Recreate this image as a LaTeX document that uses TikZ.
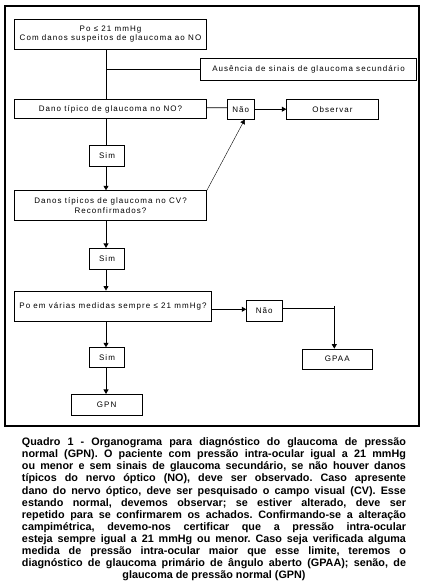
\documentclass[tikz,border=0pt]{standalone}
\usepackage{fontspec}
\setmainfont{Liberation Sans}
\newfontfamily\caixafont[LetterSpace=13]{Liberation Sans}
\usetikzlibrary{arrows.meta}

\newlength{\larg}
\setlength{\larg}{384bp}
\newcommand{\linha}[1]{\hbox to \larg{#1}}

\tikzset{
  caixa/.style={draw, line width=0.8pt, inner sep=0pt, align=center,
    font=\caixafont\fontsize{8bp}{9.3bp}\selectfont},
  liga/.style={line width=0.8pt},
  seta/.style={line width=0.8pt, -{Triangle[length=4.5bp,width=5bp]}},
  fina/.style={line width=0.4pt, -{Triangle[length=4.5bp,width=5bp]}},
}

\begin{document}
\begin{tikzpicture}[x=1bp,y=-1bp]
                \useasboundingbox (0,0) rectangle (428,585);
                \draw[line width=1.1pt] (5,6) rectangle (419,426);

                \coordinate (eixo) at (106,0);
                \coordinate (canto) at (334.3,308.3);

                \node[caixa, minimum width=192bp, minimum height=30bp] (po) at (110.5,34.2)
                    {Po ≤ 21 mmHg\\Com danos suspeitos de glaucoma ao NO};
                \node[caixa, minimum width=216bp, minimum height=22bp] (ausencia) at (308.5,69.3)
                    {Ausência de sinais de glaucoma secundário};
                \node[caixa, minimum width=192bp, minimum height=19.5bp] (dano) at (110.5,109)
                    {Dano típico de glaucoma no NO?};
                \node[caixa, minimum width=26.3bp, minimum height=19.7bp] (nao) at (240.8,109.2)
                    {Não};
                \node[caixa, minimum width=91.6bp, minimum height=19.7bp] (observar) at (332.5,109.2)
                    {Observar};
                \node[caixa, minimum width=35.4bp, minimum height=20.7bp] (sim) at (107,155.7)
                    {Sim};
                \node[caixa, minimum width=192bp, minimum height=29.6bp] (cv) at (110.5,205.5)
                    {Danos típicos de glaucoma no CV?\\Reconfirmados?};
                \node[caixa, minimum width=35.4bp, minimum height=21bp] (simb) at (107,258.8)
                    {Sim};
                \node[caixa, minimum width=197.4bp, minimum height=30.7bp] (pressao) at (113,306.3)
                    {Po em várias medidas sempre ≤ 21 mmHg?};
                \node[caixa, minimum width=35.3bp, minimum height=21.7bp] (naob) at (264.3,310.8)
                    {Não};
                \node[caixa, minimum width=70bp, minimum height=20.3bp] (gpaa) at (337.3,359.2)
                    {GPAA};
                \node[caixa, minimum width=35.4bp, minimum height=20bp] (simc) at (107,357.7)
                    {Sim};
                \node[caixa, minimum width=71.3bp, minimum height=20.7bp] (gpn) at (106.7,404.7)
                    {GPN};

                \draw[liga] (po.south -| eixo) -- (dano.north -| eixo);
                \draw[liga] (ausencia.west -| eixo) -- (ausencia.west);
                \draw[liga] (dano.east) ++(0,-1.3) -- (nao.west |- 0,107.7);
                \draw[seta] (nao.east) -- (observar.west);
                \draw[liga] (dano.south -| eixo) -- (sim.north -| eixo);
                \draw[seta] (sim.south -| eixo) -- (cv.north -| eixo);
                \draw[fina] (cv.north east) -- (nao.-69);
                \draw[seta] (cv.south -| eixo) -- (simb.north -| eixo);
                \draw[seta] (simb.south -| eixo) -- (pressao.north -| eixo);
                \draw[seta] (pressao.east |- 0,309.3) -- (naob.west |- 0,309.3);
                \draw[liga] (naob.east |- canto) -- (canto);
                \draw[seta] ([yshift=2.5bp]canto) -- (canto |- gpaa.north);
                \draw[seta] (pressao.south -| eixo) -- (simc.north -| eixo);
                \draw[seta] (simc.south -| eixo) -- (gpn.north -| eixo);

                \node[font=\bfseries\fontsize{10.8bp}{12.1bp}\selectfont, inner sep=0pt,
                      text width=\larg, align=left, anchor=north] (legenda) at (214,437.5)
                    {\lineskiplimit=-20bp \frenchspacing \spaceskip=0.278em plus 2em minus 0.08em
                     \linha{Quadro 1 - Organograma para diagnóstico do glaucoma de pressão}
                     \linha{normal (GPN). O paciente com pressão intra-ocular igual a 21 mmHg}
                     \linha{ou menor e sem sinais de glaucoma secundário, se não houver danos}
                     \linha{típicos do nervo óptico (NO), deve ser observado. Caso apresente}
                     \linha{dano do nervo óptico, deve ser pesquisado o campo visual (CV). Esse}
                     \linha{estando normal, devemos observar; se estiver alterado, deve ser}
                     \linha{repetido para se confirmarem os achados. Confirmando-se a alteração}
                     \linha{campimétrica, devemo-nos certificar que a pressão intra-ocular}
                     \linha{esteja sempre igual a 21 mmHg ou menor. Caso seja verificada alguma}
                     \linha{medida de pressão intra-ocular maior que esse limite, teremos o}
                     \linha{diagnóstico de glaucoma primário de ângulo aberto (GPAA); senão, de}
                     \hbox to \larg{\hfil glaucoma de pressão normal (GPN)\hfil}};
\end{tikzpicture}
\end{document}
